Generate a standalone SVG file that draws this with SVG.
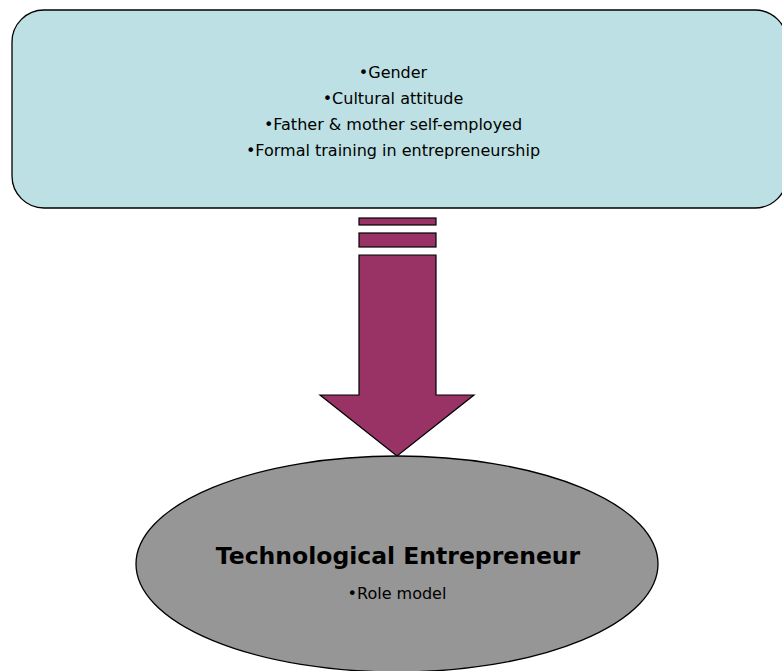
<svg xmlns="http://www.w3.org/2000/svg" width="782" height="671" viewBox="0 0 782 671">
<style>
.t{font-family:Tahoma,"DejaVu Sans","Liberation Sans",sans-serif;font-size:16px;fill:#000;text-anchor:middle}
.b{font-family:Tahoma,"DejaVu Sans","Liberation Sans",sans-serif;font-size:23.5px;font-weight:bold;fill:#000;text-anchor:middle}
.ar{fill:#993366;stroke:#000;stroke-width:1.2}
</style>
<rect width="782" height="671" fill="#fff"/>
<g id="factors">
<rect x="12" y="10" width="775" height="198" rx="32" ry="32" fill="#bce0e3" stroke="#000" stroke-width="1.3"/>
<text class="t" x="393" y="78">•Gender</text>
<text class="t" x="393" y="104">•Cultural attitude</text>
<text class="t" x="393" y="130">•Father &amp; mother self-employed</text>
<text class="t" x="393" y="156">•Formal training in entrepreneurship</text>
</g>
<g id="connectors">
<rect class="ar" x="359" y="218" width="77" height="7"/>
<rect class="ar" x="359" y="233" width="77" height="14"/>
<path class="ar" d="M359,255 H436 V395 H474 L397,456 L320,395 H359 Z"/>
</g>
<g id="entrepreneur">
<ellipse cx="397" cy="564" rx="261" ry="108" fill="#969696" stroke="#000" stroke-width="1.3"/>
<text class="b" x="398" y="564">Technological Entrepreneur</text>
<text class="t" x="397" y="599">•Role model</text>
</g>
</svg>
